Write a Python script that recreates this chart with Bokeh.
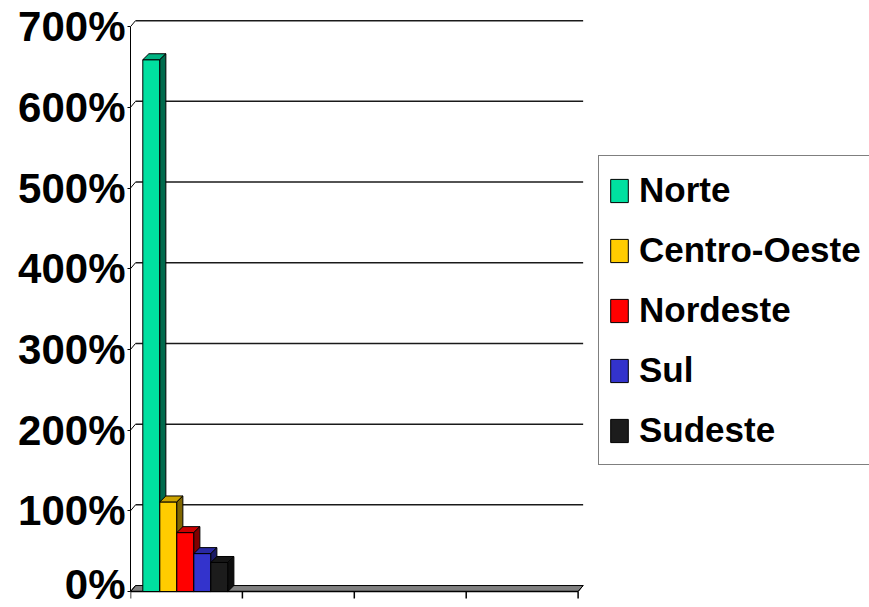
from bokeh.plotting import figure
from bokeh.models import Range1d, FixedTicker
from bokeh.embed import file_html
from bokeh.resources import INLINE

# ---- data ----
regions = ["Norte", "Centro-Oeste", "Nordeste", "Sul", "Sudeste"]
values = [659, 111, 73, 47, 36]          # percent
front_colors = ["#00E0A0", "#FFCC00", "#FF0000", "#3333CC", "#1C1C1C"]
top_colors = ["#00B382", "#CCA300", "#CC0000", "#2929A3", "#161616"]
side_colors = ["#006B4D", "#806600", "#800000", "#1A1A66", "#0E0E0E"]
y_ticks = [0, 100, 200, 300, 400, 500, 600, 700]
y_tick_labels = ["0%", "100%", "200%", "300%", "400%", "500%", "600%", "700%"]
x_ticks = [0, 1, 2, 3, 4]

# ---- style constants ----
FONT = "Liberation Sans"
wall_dx, wall_dy = 0.045, 7.4      # back-wall depth (data units)
bar_dx, bar_dy = 0.054, 7.4        # bar depth
bar_w = 0.152
bar_start = 0.11
tick_len = 8.7                     # x tick length in y data units (~7px)
x_end = x_ticks[-1]

p = figure(width=869, height=607, x_range=Range1d(0, 6.604), y_range=Range1d(-9.9, 720),
           output_backend="svg", toolbar_location=None,
           min_border_left=130, min_border_right=0, min_border_top=10, min_border_bottom=8)
p.outline_line_color = None
p.xgrid.visible = False
p.ygrid.visible = False
p.xaxis.visible = False
p.background_fill_color = "white"
p.border_fill_color = "white"

# y axis
p.yaxis.ticker = FixedTicker(ticks=y_ticks)
p.yaxis.bounds = (0, y_ticks[-1])
p.yaxis.major_label_overrides = {t: l for t, l in zip(y_ticks, y_tick_labels)}
p.yaxis.major_label_text_font = FONT
p.yaxis.major_label_text_font_style = "bold"
p.yaxis.major_label_text_font_size = "42px"
p.yaxis.major_label_text_color = "black"
p.yaxis.major_label_standoff = 2
p.yaxis.major_tick_out = 3
p.yaxis.major_tick_in = 0
p.yaxis.minor_tick_out = 0
p.yaxis.minor_tick_in = 0
p.yaxis.axis_line_color = "black"
p.yaxis.major_tick_line_color = "black"

# floor
p.patch([0, x_end, x_end + wall_dx, wall_dx], [0, 0, wall_dy, wall_dy],
        fill_color="#808080", line_color="black", line_width=1)

# x axis line and ticks (category axis without labels)
p.segment(x0=[0], y0=[0], x1=[x_end], y1=[0], line_color="black", line_width=1.5)
p.segment(x0=x_ticks, y0=[0] * len(x_ticks), x1=x_ticks, y1=[-tick_len] * len(x_ticks),
          line_color="black", line_width=1.5)

# gridlines on back wall and connectors from front axis
n = len(y_ticks)
p.segment(x0=[0] * n, y0=y_ticks, x1=[wall_dx] * n, y1=[t + wall_dy for t in y_ticks],
          line_color="black", line_width=1)
p.segment(x0=[wall_dx] * (n - 1), y0=[t + wall_dy for t in y_ticks[1:]],
          x1=[x_end + wall_dx] * (n - 1), y1=[t + wall_dy for t in y_ticks[1:]],
          line_color="#1a1a1a", line_width=1.5)
p.segment(x0=[x_end], y0=[0], x1=[x_end + wall_dx], y1=[wall_dy], line_color="black")

# bars (painter's order left to right)
for i, (reg, v) in enumerate(zip(regions, values)):
    x0 = bar_start + i * bar_w
    x1 = x0 + bar_w
    p.quad(left=[x0], right=[x1], bottom=[0], top=[v], fill_color=front_colors[i],
           line_color="black", line_width=1, legend_label=reg)
    p.patch([x0, x1, x1 + bar_dx, x0 + bar_dx], [v, v, v + bar_dy, v + bar_dy],
            fill_color=top_colors[i], line_color="black", line_width=1)
    p.patch([x1, x1, x1 + bar_dx, x1 + bar_dx], [0, v, v + bar_dy, bar_dy],
            fill_color=side_colors[i], line_color="black", line_width=1)

lg = p.legend[0]
lg.location = (468, 134)
lg.margin = 0
lg.padding = 9
lg.spacing = 10
lg.glyph_width = 22
lg.glyph_height = 29
lg.label_height = 50
lg.label_standoff = 9
lg.label_text_font = FONT
lg.label_text_font_style = "bold"
lg.label_text_font_size = "35px"
lg.label_text_color = "black"
lg.border_line_color = "black"
lg.border_line_width = 1.5
lg.background_fill_color = "white"
lg.background_fill_alpha = 1

open("out.html", "w").write(file_html(p, INLINE))
